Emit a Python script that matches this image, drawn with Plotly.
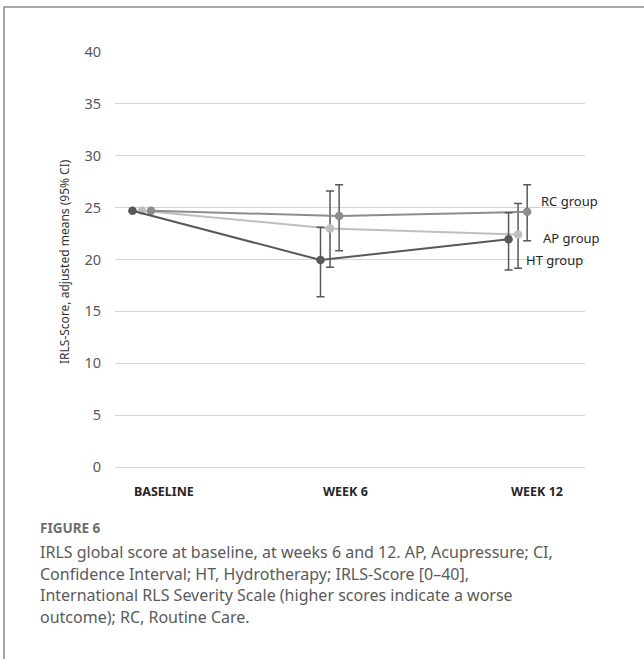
import plotly.graph_objects as go

# ---------------- data ----------------
categories = ["BASELINE", "WEEK 6", "WEEK 12"]
groups = ["HT group", "AP group", "RC group"]

ht_mean = [24.7, 19.95, 21.95]
ht_upper = [None, 23.1, 24.5]
ht_lower = [None, 16.4, 19.0]

ap_mean = [24.7, 23.0, 22.4]
ap_upper = [None, 26.6, 25.4]
ap_lower = [None, 19.25, 19.15]

rc_mean = [24.7, 24.2, 24.6]
rc_upper = [None, 27.2, 27.2]
rc_lower = [None, 20.85, 21.8]

y_ticks = [0, 5, 10, 15, 20, 25, 30, 35, 40]

caption_title = "FIGURE 6"
caption_lines = [
    "IRLS global score at baseline, at weeks 6 and 12. AP, Acupressure; CI,",
    "Confidence Interval; HT, Hydrotherapy; IRLS-Score [0\u201340],",
    "International RLS Severity Scale (higher scores indicate a worse",
    "outcome); RC, Routine Care.",
]
y_title = "IRLS-Score, adjusted means (95% CI)"

# ---------------- layout helpers (screen pixel coords) ----------------
W, H = 644, 659
PL, PR, PT, PB = 115, 585, 52, 467  # plot area on screen
L, T = PL, PT
PW, PH = PR - PL, PB - PT
R = W - L - PW
B = H - T - PH


def xp(px):
    return (px - PL) / PW


def yp(py):
    return (PB - py) / PH


dodge = {"HT group": -0.0505, "AP group": 0.0, "RC group": 0.0485}
line_col = {"HT group": "#595959", "AP group": "#bfbfbf", "RC group": "#8c8c8c"}
err_col = "#595959"

series = {
    "HT group": (ht_mean, ht_upper, ht_lower),
    "AP group": (ap_mean, ap_upper, ap_lower),
    "RC group": (rc_mean, rc_upper, rc_lower),
}

fig = go.Figure()
for g in ["AP group", "RC group", "HT group"]:
    m, up, lo = series[g]
    xs = [i + dodge[g] for i in range(len(categories))]
    plus = [None if u is None else u - v for u, v in zip(up, m)]
    minus = [None if l is None else v - l for l, v in zip(lo, m)]
    fig.add_trace(go.Scatter(
        x=xs, y=m, mode="lines+markers", name=g,
        line=dict(color=line_col[g], width=2),
        marker=dict(color=line_col[g], size=8.5),
        error_y=dict(type="data", symmetric=False, array=plus, arrayminus=minus,
                     color=err_col, thickness=1.5, width=4),
        showlegend=False,
    ))

annotations = []
for i, c in enumerate(categories):
    annotations.append(dict(
        x=i + dodge["HT group"], xref="x", y=yp(491.5), yref="paper",
        text=c, showarrow=False, xanchor="left", yanchor="middle",
        font=dict(family="Noto Sans", size=12.5, color="#262626", weight="bold"),
    ))

label_pos = {"RC group": (2.1115, 25.66), "AP group": (2.122, 22.1), "HT group": (2.032, 19.95)}
for g in groups:
    lx, ly = label_pos[g]
    annotations.append(dict(
        x=lx, xref="x", y=ly, yref="y", text=g, showarrow=False,
        xanchor="left", yanchor="middle",
        font=dict(family="Noto Sans", size=13, color="#262626"),
    ))

annotations.append(dict(
    x=xp(64), xref="paper", y=yp(262), yref="paper", text=y_title,
    textangle=-90, showarrow=False, xanchor="center", yanchor="middle",
    font=dict(family="Noto Sans", size=12, color="#333333"),
))

annotations.append(dict(
    x=xp(38), xref="paper", y=yp(528), yref="paper", text=caption_title,
    showarrow=False, xanchor="left", yanchor="middle",
    font=dict(family="Noto Sans", size=13.5, color="#6e6e6e", weight="bold"),
))
for k, line in enumerate(caption_lines):
    annotations.append(dict(
        x=xp(38), xref="paper", y=yp(552 + k * 21.6), yref="paper", text=line,
        showarrow=False, xanchor="left", yanchor="middle",
        font=dict(family="Noto Sans", size=16, color="#5a5a5a"),
    ))

shapes = [dict(
    type="rect", xref="paper", yref="paper",
    x0=xp(4), x1=xp(W + 30), y0=yp(H + 30), y1=yp(7),
    line=dict(color="#8a8a8a", width=1.5), fillcolor="rgba(0,0,0,0)",
)]

fig.update_layout(
    width=W, height=H,
    margin=dict(l=L, r=R, t=T, b=B),
    paper_bgcolor="white", plot_bgcolor="white",
    annotations=annotations, shapes=shapes,
    xaxis=dict(range=[-0.1434, 2.356], showticklabels=False, showgrid=False,
               zeroline=False, showline=False, fixedrange=True),
    yaxis=dict(range=[0, 40], tickvals=y_ticks, showgrid=True, gridcolor="#d4d4d4",
               gridwidth=1, zeroline=True, zerolinecolor="#d4d4d4", zerolinewidth=1,
               showline=False, ticks="", ticklabelstandoff=13,
               tickfont=dict(family="Noto Sans", size=14.5, color="#595959")),
)

fig.write_html("out.html", config={"displayModeBar": False},
               post_script="document.body.style.margin='0';")
